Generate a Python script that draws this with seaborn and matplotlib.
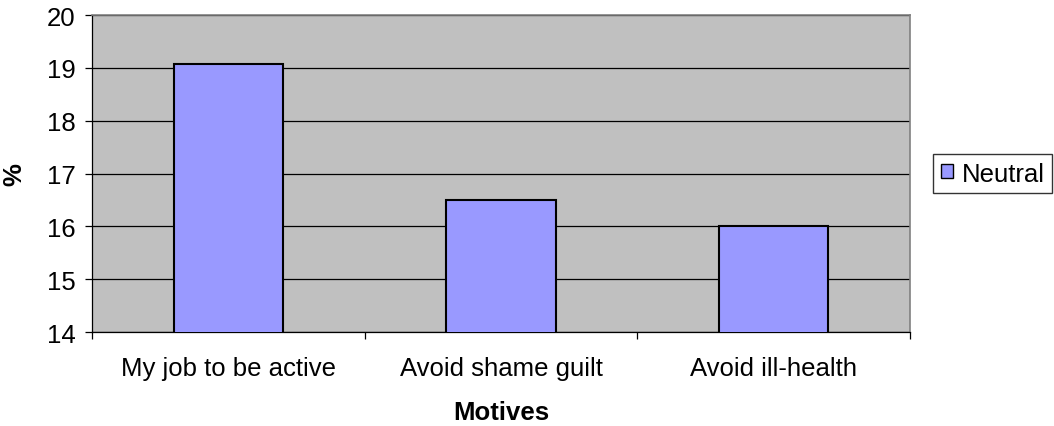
import matplotlib
matplotlib.use("Agg")
import matplotlib.pyplot as plt
import seaborn as sns
import pandas as pd
from matplotlib.ticker import FixedLocator

motivos = ["My job to be active", "Avoid shame guilt", "Avoid ill-health"]
neutral = [19.08, 16.5, 16.0]
y_ticks = [14, 15, 16, 17, 18, 19, 20]

df = pd.DataFrame({"motivo": motivos, "valor": neutral})

sns.set_style("white")
plt.rcParams['font.family'] = ['Liberation Sans', 'DejaVu Sans']
plt.rcParams['text.color'] = 'black'
plt.rcParams['axes.labelcolor'] = 'black'
plt.rcParams['xtick.color'] = 'black'
plt.rcParams['ytick.color'] = 'black'

fig = plt.figure(figsize=(10.54, 4.27), dpi=100)
ax = fig.add_axes([0.0873, 0.2201, 0.7761, 0.7424])
ax.set_facecolor("#C0C0C0")

sns.barplot(data=df, x="motivo", y="valor", color="#9999FF", width=0.4,
            edgecolor="black", linewidth=1.5, saturation=1, ax=ax,
            label="Neutral", zorder=3)

fs = 18.5
ax.set_ylim(14, 20)
ax.set_xlim(-0.5, 2.5)
ax.set_yticks(y_ticks)
ax.yaxis.grid(True, color="black", linewidth=0.9, zorder=1)
ax.set_axisbelow(True)
ax.tick_params(axis="y", labelsize=fs, length=5, direction="out", left=True, width=0.9, pad=7)
ax.tick_params(axis="x", which="major", labelsize=fs, length=0, pad=17)
ax.xaxis.set_minor_locator(FixedLocator([-0.5, 0.5, 1.5, 2.5]))
ax.tick_params(axis="x", which="minor", length=5, direction="out", bottom=True, width=0.9)

for s in ["top", "right"]:
    ax.spines[s].set_color("#808080")
    ax.spines[s].set_linewidth(1.2)
ax.spines["left"].set_color("black")
ax.spines["bottom"].set_color("black")
ax.spines["left"].set_linewidth(0.9)
ax.spines["bottom"].set_linewidth(0.9)

ax.set_xlabel("Motives", fontsize=fs, fontweight="bold")
ax.xaxis.set_label_coords(0.5, -0.215)
ax.set_ylabel("%", fontsize=fs, fontweight="bold")
ax.yaxis.set_label_coords(-0.08, 0.5)

leg = ax.legend(loc="center left", bbox_to_anchor=(1.028, 0.5), fontsize=fs,
                frameon=True, fancybox=False, edgecolor="black",
                handlelength=0.47, handleheight=0.47, handletextpad=0.35,
                borderpad=0.3, borderaxespad=0)
leg.get_frame().set_linewidth(1.0)
for h in leg.legend_handles:
    h.set_linewidth(1.0)

plt.savefig("out.png", dpi=100)
